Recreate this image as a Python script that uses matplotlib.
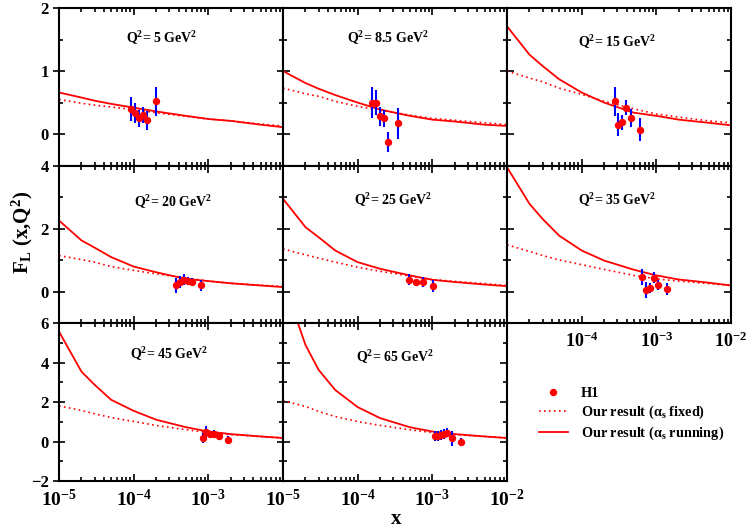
import matplotlib
matplotlib.use('Agg')
import matplotlib.pyplot as plt
from matplotlib.ticker import MultipleLocator, LogLocator, NullFormatter
from matplotlib.lines import Line2D

plt.rcParams['font.family'] = 'Liberation Serif'
plt.rcParams['font.weight'] = 'bold'
plt.rcParams['mathtext.fontset'] = 'custom'
plt.rcParams['mathtext.rm'] = 'Liberation Serif:bold'
plt.rcParams['mathtext.bf'] = 'Liberation Serif:bold'
plt.rcParams['mathtext.it'] = 'Liberation Serif:bold:italic'
plt.rcParams['mathtext.default'] = 'rm'

# ---- data ----
q2_values = ['5', '8.5', '15', '20', '25', '35', '45', '65']

# x grid on which the model curves were read
x_curve = [1e-5, 2e-5, 3e-5, 5e-5, 1e-4, 2e-4, 5e-4, 1e-3, 2e-3, 5e-3, 1e-2]

# F_L with running alpha_s (solid) per Q^2 panel
fl_running = [
    [0.66, 0.58, 0.53, 0.48, 0.42, 0.36, 0.29, 0.24, 0.21, 0.15, 0.11],
    [1.00, 0.81, 0.72, 0.62, 0.50, 0.39, 0.29, 0.23, 0.20, 0.15, 0.13],
    [1.71, 1.26, 1.08, 0.87, 0.66, 0.50, 0.34, 0.29, 0.23, 0.18, 0.14],
    [2.26, 1.63, 1.40, 1.10, 0.80, 0.62, 0.41, 0.34, 0.27, 0.20, 0.15],
    [2.95, 2.05, 1.73, 1.31, 0.94, 0.73, 0.52, 0.38, 0.31, 0.23, 0.18],
    [3.95, 2.79, 2.31, 1.78, 1.31, 0.99, 0.70, 0.52, 0.39, 0.29, 0.20],
    [5.58, 3.55, 2.88, 2.12, 1.56, 1.11, 0.73, 0.51, 0.38, 0.26, 0.18],
    [8.20, 4.90, 3.64, 2.62, 1.75, 1.19, 0.73, 0.51, 0.38, 0.26, 0.18],
]

# F_L with fixed alpha_s (dotted)
fl_fixed = [
    [0.55, 0.49, 0.46, 0.43, 0.39, 0.34, 0.28, 0.24, 0.21, 0.16, 0.13],
    [0.73, 0.64, 0.60, 0.52, 0.44, 0.38, 0.30, 0.25, 0.22, 0.18, 0.15],
    [1.00, 0.89, 0.83, 0.73, 0.63, 0.52, 0.40, 0.32, 0.27, 0.21, 0.18],
    [1.15, 1.02, 0.94, 0.80, 0.68, 0.57, 0.44, 0.34, 0.27, 0.21, 0.17],
    [1.36, 1.17, 1.07, 0.94, 0.78, 0.65, 0.50, 0.39, 0.33, 0.26, 0.20],
    [1.49, 1.28, 1.15, 1.01, 0.86, 0.71, 0.52, 0.41, 0.34, 0.26, 0.20],
    [1.81, 1.58, 1.41, 1.22, 1.02, 0.82, 0.60, 0.46, 0.35, 0.26, 0.19],
    [2.08, 1.78, 1.53, 1.27, 1.02, 0.82, 0.60, 0.46, 0.35, 0.26, 0.19],
]

# H1 data points
h1_x = [
    [9.3e-5, 1.04e-4, 1.17e-4, 1.32e-4, 1.52e-4, 2.0e-4],
    [1.56e-4, 1.76e-4, 1.97e-4, 2.23e-4, 2.57e-4, 3.43e-4],
    [2.77e-4, 3.10e-4, 3.47e-4, 3.92e-4, 4.53e-4, 6.04e-4],
    [3.67e-4, 4.15e-4, 4.65e-4, 5.26e-4, 6.08e-4, 8.02e-4],
    [4.92e-4, 6.10e-4, 7.57e-4, 1.02e-3],
    [6.49e-4, 7.27e-4, 8.15e-4, 9.21e-4, 1.05e-3, 1.40e-3],
    [8.40e-4, 9.31e-4, 1.04e-3, 1.18e-3, 1.39e-3, 1.83e-3],
    [1.10e-3, 1.20e-3, 1.31e-3, 1.42e-3, 1.57e-3, 1.83e-3, 2.42e-3],
]
h1_y = [
    [0.40, 0.33, 0.25, 0.30, 0.22, 0.52],
    [0.50, 0.50, 0.28, 0.25, -0.12, 0.17],
    [0.52, 0.15, 0.19, 0.42, 0.26, 0.07],
    [0.20, 0.31, 0.39, 0.34, 0.30, 0.20],
    [0.39, 0.30, 0.32, 0.18],
    [0.47, 0.05, 0.12, 0.45, 0.22, 0.08],
    [0.18, 0.50, 0.36, 0.40, 0.26, 0.09],
    [0.30, 0.30, 0.35, 0.40, 0.46, 0.16, -0.03],
]
h1_err = [
    [0.19, 0.16, 0.13, 0.13, 0.15, 0.23],
    [0.24, 0.20, 0.15, 0.14, 0.16, 0.24],
    [0.23, 0.18, 0.12, 0.12, 0.14, 0.18],
    [0.24, 0.19, 0.16, 0.13, 0.13, 0.19],
    [0.18, 0.10, 0.16, 0.20],
    [0.25, 0.25, 0.15, 0.17, 0.16, 0.19],
    [0.27, 0.31, 0.14, 0.20, 0.20, 0.20],
    [0.25, 0.25, 0.25, 0.25, 0.25, 0.40, 0.20],
]

row_ylims = [(-0.5, 2), (-1, 4), (-2, 6)]
row_major = [1, 2, 2]
row_minor = [0.5, 1, 1]

# label positions inside each panel (axes fraction)
label_x = [0.46, 0.47, 0.49, 0.51, 0.49, 0.49, 0.49, 0.50]
label_y = [0.776, 0.78, 0.753, 0.74, 0.747, 0.75, 0.77, 0.755]

decades = [1e-5, 1e-4, 1e-3, 1e-2]
dec_labels = [r'$10^{-5}$', r'$10^{-4}$', r'$10^{-3}$', r'$10^{-2}$']

fig, axes = plt.subplots(3, 3, figsize=(7.47, 5.28), dpi=100)
plt.subplots_adjust(left=59/747, right=731/747, top=1-8/528, bottom=1-481/528,
                    wspace=0, hspace=0)

axes[2, 2].axis('off')

for i in range(8):
    r, c = divmod(i, 3)
    ax = axes[r, c]
    ax.set_xscale('log')
    ax.set_xlim(1e-5, 1e-2)
    ax.set_ylim(*row_ylims[r])

    ax.plot(x_curve, fl_fixed[i], color='red', lw=1.2, ls=(0, (1, 2)))
    ax.plot(x_curve, fl_running[i], color='red', lw=1.3)
    ax.errorbar(h1_x[i], h1_y[i], yerr=h1_err[i], fmt='none',
                ecolor='blue', elinewidth=1.5, capsize=0, zorder=3)
    ax.plot(h1_x[i], h1_y[i], 'o', color='red', ms=4.3, zorder=4)

    ax.text(label_x[i], label_y[i], r'Q$^2$= ' + q2_values[i] + r' GeV$^2$',
            transform=ax.transAxes, ha='center', va='baseline', fontsize=10)

    for s in ax.spines.values():
        s.set_linewidth(1.5)

    ax.yaxis.set_major_locator(MultipleLocator(row_major[r]))
    ax.yaxis.set_minor_locator(MultipleLocator(row_minor[r]))
    ax.set_xticks(decades)
    ax.xaxis.set_minor_locator(LogLocator(base=10, subs=range(2, 10)))
    ax.xaxis.set_minor_formatter(NullFormatter())

    ax.tick_params(which='both', direction='in', top=True, right=True, width=1.2)
    ax.tick_params(which='major', length=5)
    ax.tick_params(which='minor', length=3)
    if c == 0:
        ax.tick_params(axis='y', which='major', direction='inout', length=8, labelsize=12)
    else:
        ax.set_yticklabels([])

    if i == 5:
        ax.set_xticklabels([''] + dec_labels[1:], fontsize=13)
        ax.tick_params(axis='x', which='major', pad=6)
    elif i == 6:
        ax.set_xticklabels(dec_labels[:3] + [''], fontsize=14)
        ax.tick_params(axis='x', which='major', pad=6)
    elif i == 7:
        ax.set_xticklabels(dec_labels, fontsize=14)
        ax.tick_params(axis='x', which='major', pad=6)
    else:
        ax.set_xticklabels([])

fig.text(0.03, 1 - 232/528, r'F$_L$ (x,Q$^2$)', rotation=90,
         ha='center', va='center', fontsize=15)
fig.text(396/747, 0.007, 'x', ha='center', va='baseline', fontsize=15)

handles = [
    Line2D([], [], marker='o', ls='none', color='red', ms=4.3),
    Line2D([], [], color='red', lw=1.2, ls=(0, (1, 2))),
    Line2D([], [], color='red', lw=1.3),
]
labels = ['H1', r'Our result ($\alpha_s$ fixed)', r'Our result ($\alpha_s$ running)']
fig.legend(handles, labels, loc='upper left', bbox_to_anchor=(532/747, 1 - 380/528),
           frameon=False, borderpad=0, handlelength=2.0, handletextpad=0.9,
           labelspacing=0.25, fontsize=10.3)

fig.savefig('out.png', dpi=100)
